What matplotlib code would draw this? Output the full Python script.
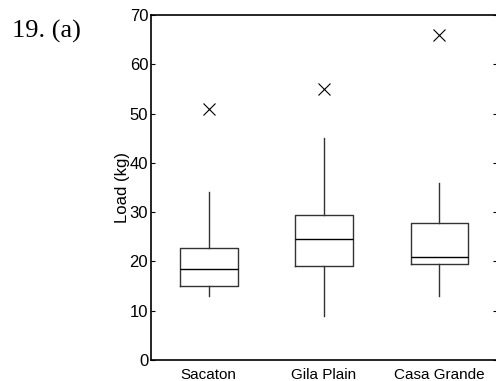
import matplotlib
matplotlib.use('Agg')
import matplotlib.pyplot as plt

sites = ['Sacaton', 'Gila Plain', 'Casa Grande']
whislo = [13, 9, 13]
q1 = [15, 19, 19.5]
med = [18.5, 24.5, 21]
q3 = [22.7, 29.5, 27.7]
whishi = [34, 45, 36]
outliers = [[51], [55], [66]]

plt.rcParams['font.family'] = ['Liberation Sans Narrow', 'Liberation Sans', 'DejaVu Sans']

stats = []
for i in range(len(sites)):
    stats.append(dict(label=sites[i], whislo=whislo[i], q1=q1[i], med=med[i],
                      q3=q3[i], whishi=whishi[i], fliers=outliers[i]))

fig = plt.figure(figsize=(4.96, 3.81), dpi=100)
ax = fig.add_axes([151/496, 21/381, 346/496, 345/381])

ax.bxp(stats, positions=[1, 2, 3], widths=0.5, showcaps=False,
       boxprops=dict(color='#333333', linewidth=1),
       whiskerprops=dict(color='#333333', linewidth=1),
       medianprops=dict(color='black', linewidth=1),
       flierprops=dict(marker='x', markeredgecolor='black', markersize=8,
                       markeredgewidth=0.8))

ax.set_xlim(0.5, 3.5)
ax.set_ylim(0, 70)
ax.set_yticks(range(0, 80, 10))
ax.tick_params(axis='x', length=0, labelsize=11, pad=6)
ax.tick_params(axis='y', direction='in', length=3, labelsize=12, pad=2,
               right=True)
for s in ax.spines.values():
    s.set_linewidth(1.2)
ax.set_ylabel('Load (kg)', fontsize=12)
ax.yaxis.set_label_coords(-0.06, 0.5)

fig.text(12/496, 1 - 31/381, '19. (a)', fontsize=19, family='Liberation Serif',
         va='center', ha='left')

fig.savefig('out.png', dpi=100)
